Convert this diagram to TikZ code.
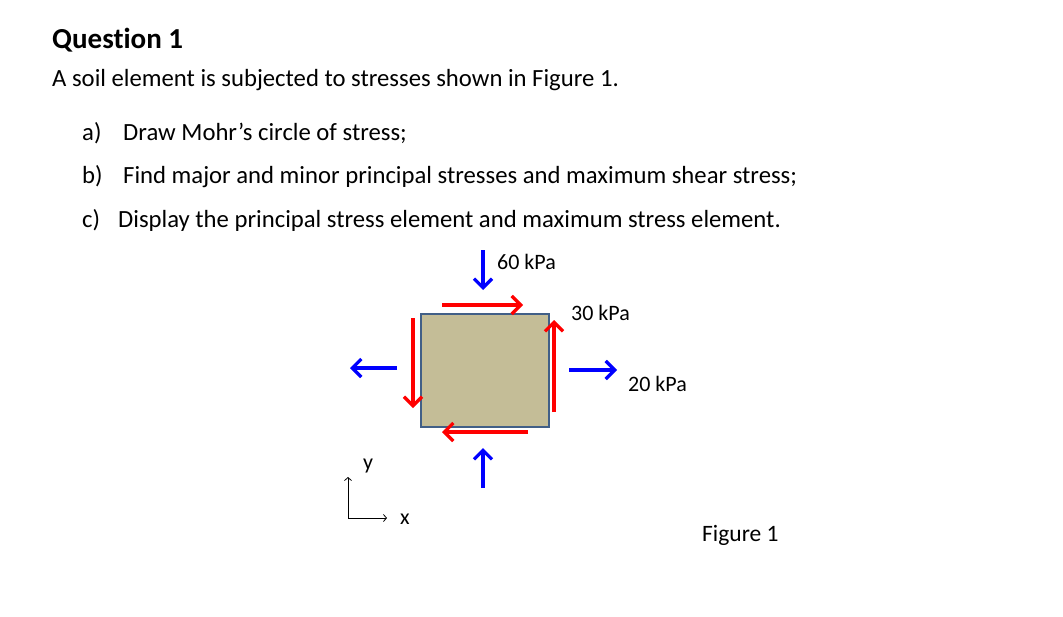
\documentclass[tikz,border=0pt]{standalone}
\usepackage{fontspec}
\setmainfont[Ligatures=NoCommon]{Carlito}
\usetikzlibrary{arrows.meta}
\begin{document}
\begin{tikzpicture}[x=1pt,y=-1pt,
  bl/.style={draw=blue,line width=3.5pt,-{Straight Barb[length=9pt,width=18pt,line width=3.2pt]}},
  rd/.style={draw=red,line width=3.5pt,-{Straight Barb[length=9pt,width=18pt,line width=3.2pt]}},
  txt/.style={anchor=west,inner sep=0pt,font=\fontsize{24.7}{28}\selectfont},
  lab/.style={anchor=west,inner sep=0pt,font=\fontsize{22}{26}\selectfont}]
\useasboundingbox (0,0) rectangle (1063,616);
\node[txt,font=\bfseries\fontsize{29}{34}\selectfont] (q) at (52,40) {Question 1};
\node[txt] (t0) at (52,80) {A soil element is subjected to stresses shown in Figure 1.};
\node[txt] (t1) at (82,133) {\makebox[41pt][l]{a)}Draw Mohr’s circle of stress;};
\node[txt] (t2) at (82,177) {\makebox[41pt][l]{b)}Find major and minor principal stresses and maximum shear stress;};
\node[txt] (t3) at (82,220) {\makebox[36pt][l]{c)}Display the principal stress element and maximum stress element.};
\node[draw={rgb,255:red,65;green,95;blue,135},line width=1.5pt,fill={rgb,255:red,196;green,189;blue,151},minimum width=128pt,minimum height=113pt,anchor=north west,inner sep=0pt] (sq) at (420,313) {};
\coordinate (a1) at (483,250); \coordinate (a2) at (483,290);
\draw[bl] (a1) -- (a2);
\coordinate (b1) at (483,488); \coordinate (b2) at (483,448);
\draw[bl] (b1) -- (b2);
\coordinate (c1) at (397,368); \coordinate (c2) at (350,368);
\draw[bl] (c1) -- (c2);
\coordinate (d1) at (569,370); \coordinate (d2) at (617,370);
\draw[bl] (d1) -- (d2);
\coordinate (e1) at (442,305); \coordinate (e2) at (523,305);
\draw[rd] (e1) -- (e2);
\coordinate (f1) at (554,412); \coordinate (f2) at (554,320);
\draw[rd] (f1) -- (f2);
\coordinate (g1) at (413,318); \coordinate (g2) at (413,408);
\draw[rd] (g1) -- (g2);
\coordinate (h1) at (528,432); \coordinate (h2) at (442,432);
\draw[rd] (h1) -- (h2);
\coordinate (ay) at (348,477); \coordinate (o) at (348,518); \coordinate (ax) at (387,518);
\draw[line width=0.8pt,-{Straight Barb[length=3pt,width=7pt]}] (o) -- (ay);
\draw[line width=0.8pt,-{Straight Barb[length=3pt,width=7pt]}] (o) -- (ax);
\node[lab] (ly) at (363,466) {y};
\node[lab] (lx) at (400,519) {x};
\node[lab] (l60) at (497,262) {60 kPa};
\node[lab] (l30) at (571,313) {30 kPa};
\node[lab] (l20) at (628,384) {20 kPa};
\node[txt,font=\fontsize{23.5}{28}\selectfont] (fig) at (702,535) {Figure 1};
\end{tikzpicture}
\end{document}
